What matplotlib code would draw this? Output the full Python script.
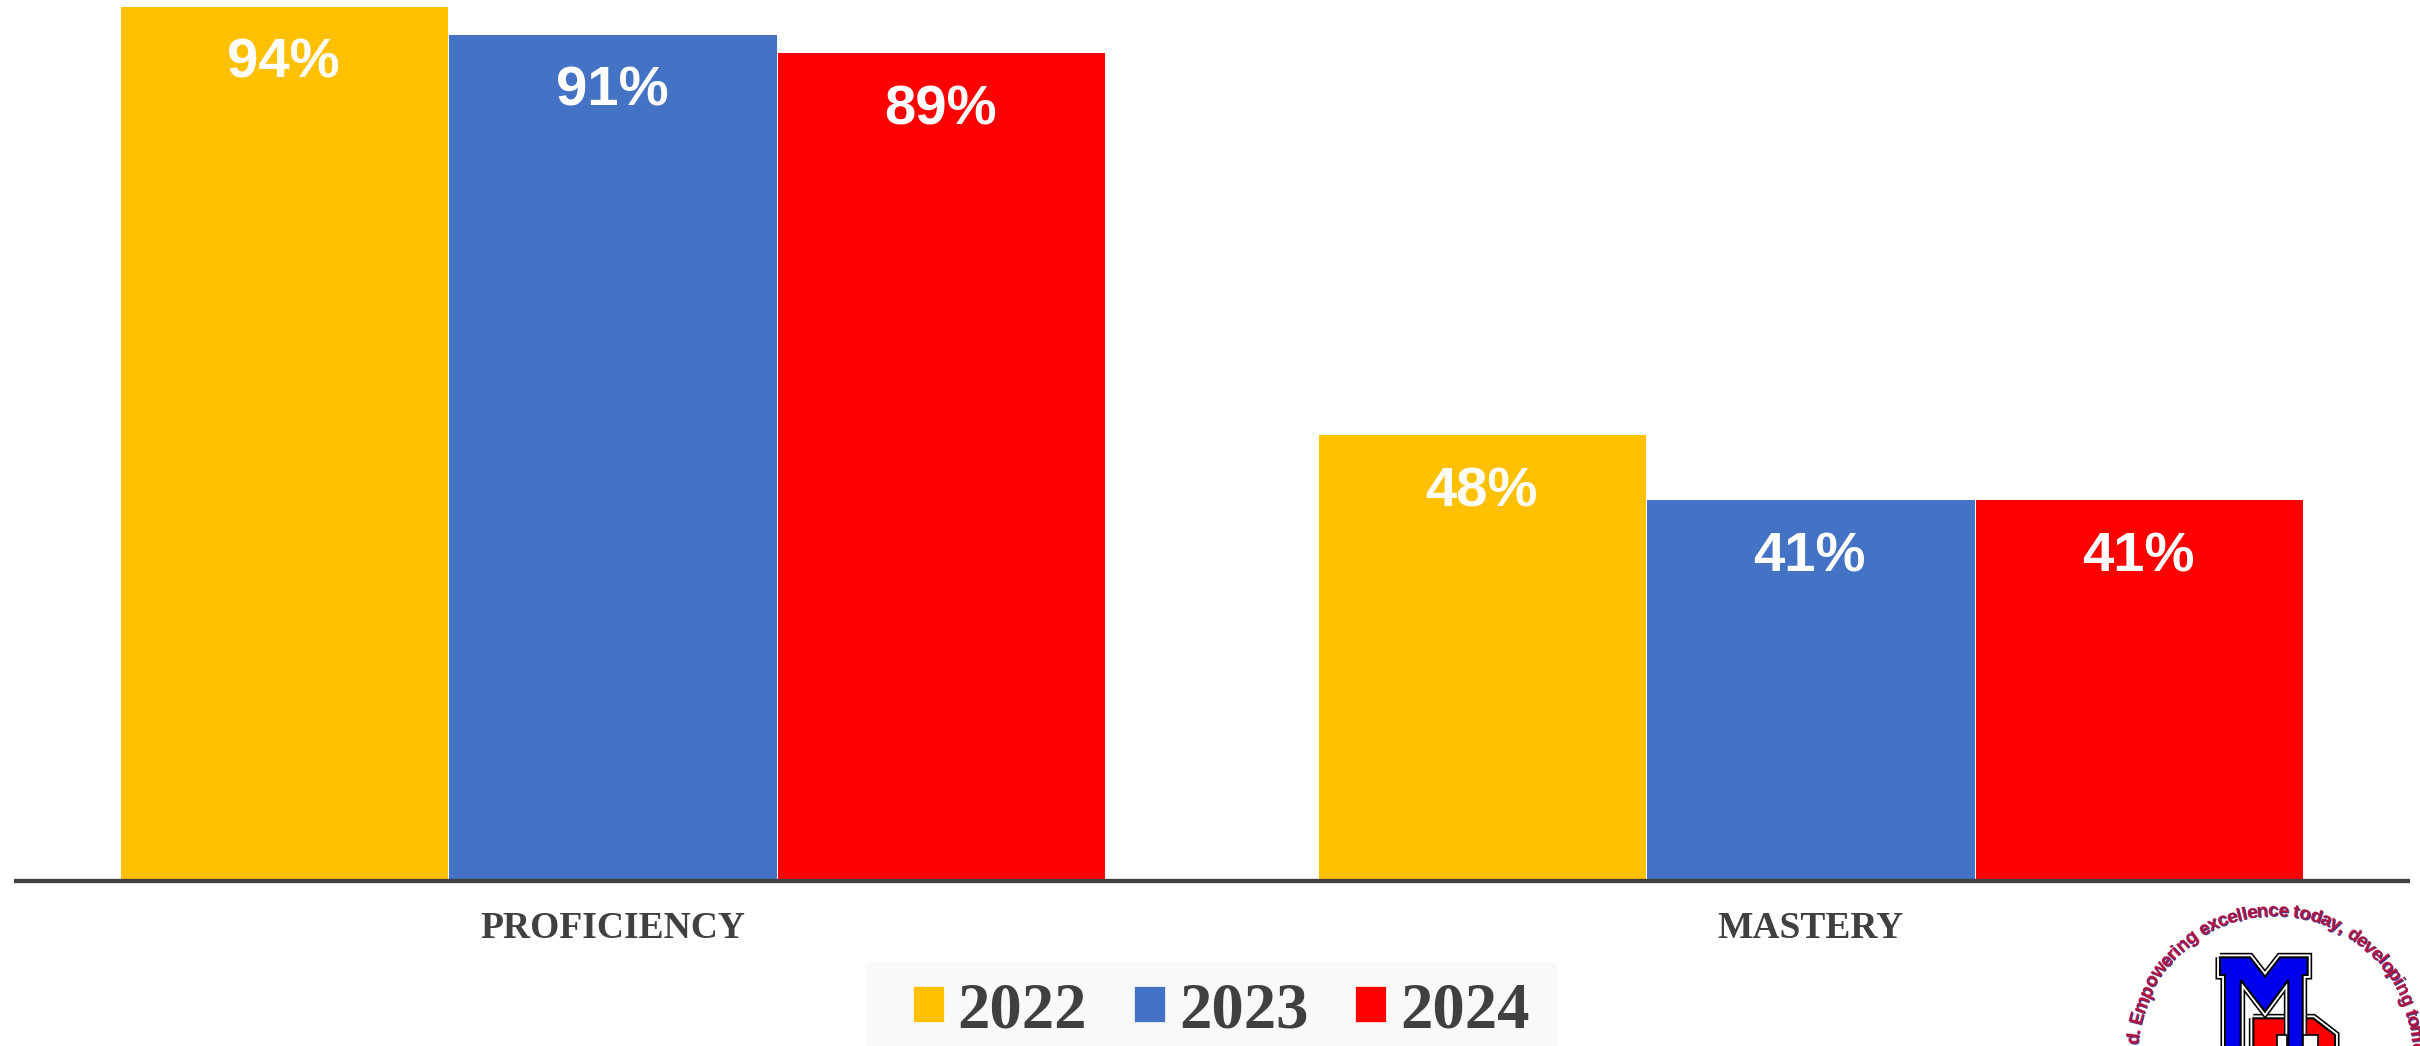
import numpy as np
import matplotlib
matplotlib.use("Agg")
import matplotlib.pyplot as plt
from matplotlib.patches import Rectangle, Polygon, Patch

# Datos
categories = ["PROFICIENCY", "MASTERY"]
years = ["2022", "2023", "2024"]
values_2022 = [94, 48]
values_2023 = [91, 41]
values_2024 = [89, 41]
colors = ["#FFC000", "#4472C4", "#FF0000"]
logo_text = "d. Empowering excellence today, developing tomo"

DARK = "#404040"
BAR_W = 0.274

fig = plt.figure(figsize=(24.2, 10.46), dpi=100, facecolor="white")

# overlay in pixel coords for legend backing and logo
bg = fig.add_axes([0, 0, 1, 1], zorder=0)
bg.set_xlim(0, 2420)
bg.set_ylim(1046, 0)
bg.axis("off")
bg.add_patch(Rectangle((866, 963), 691, 83, fc="#F9F9F9", ec="none"))

ax = fig.add_axes([14 / 2420, 165 / 1046, 2396 / 2420, 881 / 1046], zorder=1)
ax.patch.set_alpha(0)

x = np.arange(len(categories))
series = [values_2022, values_2023, values_2024]
for i, vals in enumerate(series):
    pos = x + (i - 1) * BAR_W
    ax.bar(pos, vals, BAR_W, color=colors[i], edgecolor="#FFFFFF", linewidth=0.7)
    for xp, v in zip(pos, vals):
        ax.annotate(f"{v}%", (xp, v), xytext=(-0.4, -42), textcoords="offset points",
                    ha="center", va="center", color="white", fontsize=40.5,
                    fontweight="bold", family="Liberation Sans")

ax.set_xlim(-0.4995, 1.5005)
ax.set_ylim(0, 94.6)
ax.set_yticks([])
ax.set_xticks(x)
ax.set_xticklabels(categories, family="Liberation Serif", fontweight="bold",
                   fontsize=27, color=DARK)
ax.tick_params(axis="x", length=0, pad=21.5)
for s in ["top", "left", "right"]:
    ax.spines[s].set_visible(False)
ax.spines["bottom"].set_color(DARK)
ax.spines["bottom"].set_linewidth(3.1)
ax.spines["bottom"].set_capstyle("butt")

handles = [Patch(fc=c, ec="white", lw=0.5, label=y) for c, y in zip(colors, years)]
leg = fig.legend(handles=handles, loc="lower left", bbox_to_anchor=(913 / 2420, 5 / 1046),
                 ncol=3, frameon=False, borderpad=0, borderaxespad=0,
                 prop={"family": "Liberation Serif", "weight": "bold", "size": 46.5},
                 handlelength=0.48, handleheight=0.495, handletextpad=0.21,
                 columnspacing=0.73, labelcolor=DARK)


# Logo
def z(pts):
    return [(2080 + a / 3, 880 + b / 3) for a, b in pts]


m_pts = [(420, 232), (510, 232), (555, 290), (600, 232), (683, 232), (683, 285), (668, 285),
         (668, 520), (625, 520), (625, 300), (555, 395), (482, 300), (482, 520),
         (435, 520), (435, 285), (420, 285)]
d_pts = [(520, 415), (700, 415), (765, 465), (765, 520), (520, 520)]
d_in = [(590, 465), (620, 465), (620, 520), (590, 520)]
d_in2 = [(670, 465), (715, 465), (715, 520), (670, 520)]

for pts, fc, z0 in [(d_pts, "#FF0000", 3), (m_pts, "#0000F0", 4)]:
    bg.add_patch(Polygon(z(pts), closed=True, fc="none", ec="black", lw=6.5, zorder=z0, joinstyle="miter"))
    bg.add_patch(Polygon(z(pts), closed=True, fc="none", ec="white", lw=4.2, zorder=z0, joinstyle="miter"))
    bg.add_patch(Polygon(z(pts), closed=True, fc=fc, ec="black", lw=1.5, zorder=z0, joinstyle="miter"))
for pts in [d_in, d_in2]:
    bg.add_patch(Polygon(z(pts), closed=True, fc="white", ec="black", lw=1.2, zorder=5))

# letters around the arc
widths = {"i": .278, "l": .278, "t": .333, "f": .333, " ": .278, ".": .278, ",": .278,
          "m": .889, "w": .778, "r": .389, "E": .667, "g": .611, "p": .611, "n": .611,
          "o": .611, "d": .611, "y": .556}
cx, cy, rad, adv_px, fs_px = 2274, 1052, 136, 17.5, 19.0
adv = [widths.get(c, .556) * adv_px for c in logo_text]
ang = -86.5
for ch, w in zip(logo_text, adv):
    ang += np.degrees(w / 2 / rad)
    a = np.radians(ang)
    px, py = cx + rad * np.sin(a), cy - rad * np.cos(a)
    for dx, col in [(0.8, "#3A3A8C"), (0, "#B5123F")]:
        bg.text(px + dx, py + dx, ch, rotation=-ang, rotation_mode="anchor", ha="center",
                va="baseline", color=col, fontsize=fs_px * 0.72, fontweight="bold",
                family="Liberation Sans", clip_on=True)
    ang += np.degrees(w / 2 / rad)

fig.savefig("out.png", dpi=100)
